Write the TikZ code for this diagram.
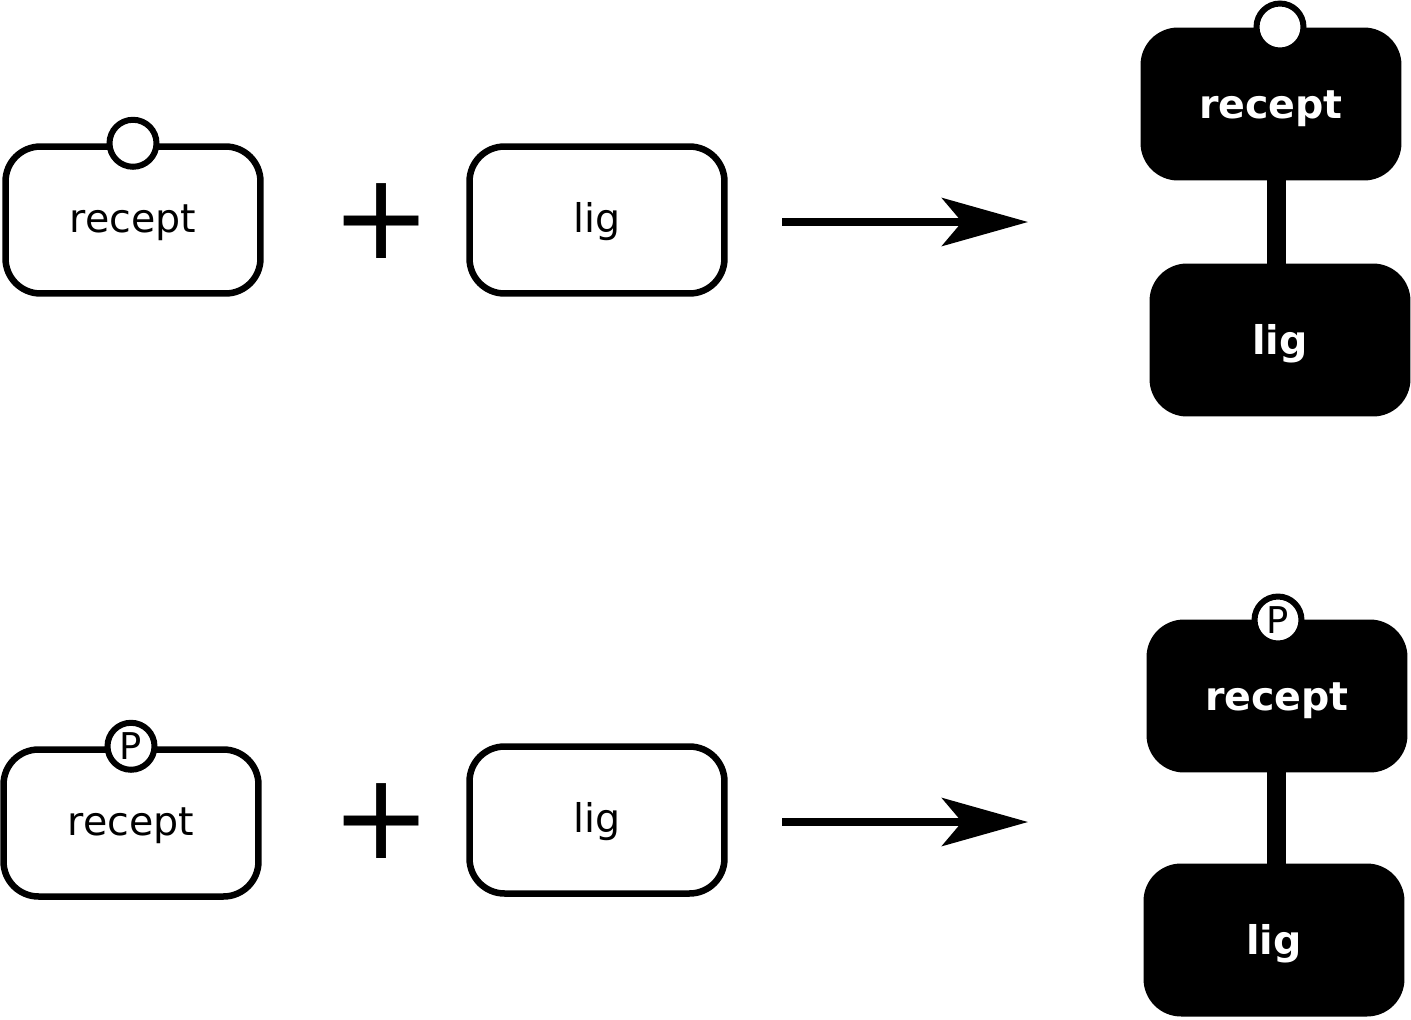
\documentclass[tikz,border=0pt]{standalone}
\usepackage{fontspec}
\setmainfont{DejaVu Sans}
\usetikzlibrary{arrows.meta}

\begin{document}
\begin{tikzpicture}[x=0.02cm,y=-0.02cm,
  mol/.style={draw,line width=0.13cm,rounded corners=0.7cm,minimum width=5.1cm,minimum height=2.94cm,text height=0.7cm,text depth=0.2cm,font=\fontsize{22.5}{27}\selectfont},
  cplx/.style={fill=black,text=white,rounded corners=0.75cm,minimum width=5.22cm,minimum height=3.06cm,text height=0.73cm,text depth=0.17cm,font=\fontsize{22.5}{27}\selectfont\bfseries},
  site/.style={circle,draw,fill=white,line width=0.12cm,minimum size=0.94cm,inner sep=0pt,font=\fontsize{21}{21}\selectfont},
  plus/.style={font=\fontsize{68}{68}\selectfont,inner sep=0pt},
  reaction/.style={line width=0.16cm,-{Stealth[length=1.72cm,width=0.96cm,inset=0.4cm]}},
  bond/.style={line width=0.38cm}]
			\useasboundingbox (0,0) rectangle (1411,1019);
			% unbound receptor + ligand
			\node[mol] (rec1) at (133,220) {recept};
			\node[site] (site1) at (rec1.north) {};
			\node[plus] (plus1) at (382,221) {+};
			\node[mol] (lig1) at (597,220) {lig};
			\coordinate (a1s) at (782,222);
			\coordinate (a1e) at (1028,222);
			\draw[reaction] (a1s) -- (a1e);
			\node[cplx] (crec1) at (1271,104) {recept};
			\node[cplx] (clig1) at (1280,340) {lig};
			\coordinate (b1t) at (1276,135);
			\coordinate (b1b) at (1276,320);
			\draw[bond] (b1t) -- (b1b);
			\node[site] (csite1) at (1280,27) {};
			% phosphorylated receptor + ligand
			\node[mol] (rec2) at (131,823) {recept};
			\node[site] (site2) at (rec2.north) {P};
			\node[plus] (plus2) at (382,821) {+};
			\node[mol] (lig2) at (597,820) {lig};
			\coordinate (a2s) at (782,822);
			\coordinate (a2e) at (1028,822);
			\draw[reaction] (a2s) -- (a2e);
			\node[cplx] (crec2) at (1277,696) {recept};
			\node[cplx] (clig2) at (1274,940) {lig};
			\coordinate (b2t) at (1276,737);
			\coordinate (b2b) at (1276,918);
			\draw[bond] (b2t) -- (b2b);
			\node[site] (csite2) at (1278,620) {P};
\end{tikzpicture}
\end{document}
